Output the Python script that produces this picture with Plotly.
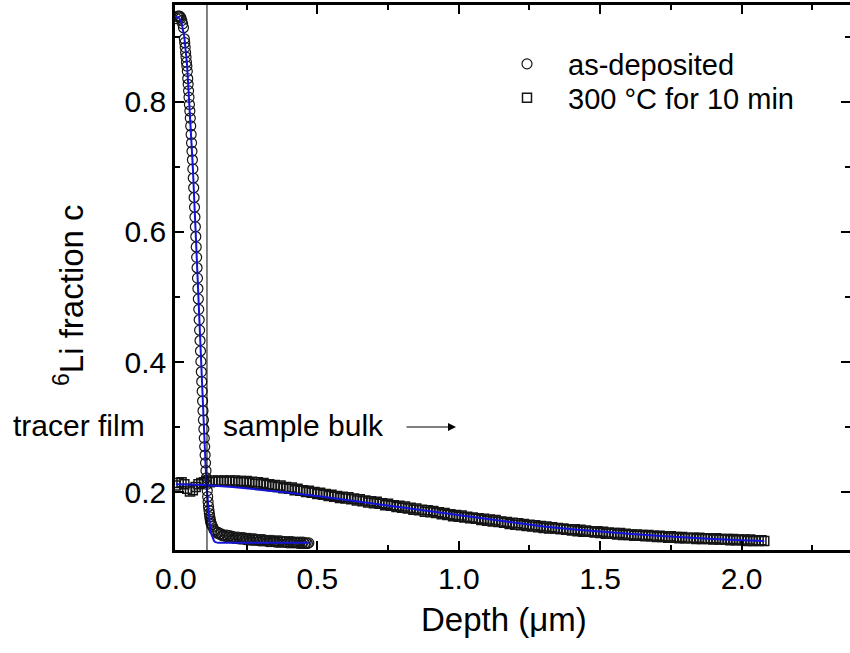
import plotly.graph_objects as go

# ---------------- data ----------------
asdep_depth = [0.003, 0.006, 0.009, 0.012, 0.015, 0.018, 0.021, 0.024, 0.027,
               0.0300, 0.0315, 0.0330, 0.0345, 0.0360, 0.0375, 0.0390, 0.0405, 0.0420, 0.0435,
               0.0450, 0.0465, 0.0480, 0.0495, 0.0510, 0.0525, 0.0540, 0.0555, 0.0570, 0.0585,
               0.0600, 0.0615, 0.0630, 0.0645, 0.0660, 0.0675, 0.0690, 0.0705, 0.0720, 0.0735,
               0.0750, 0.0765, 0.0780, 0.0795, 0.0810, 0.0825, 0.0840, 0.0855, 0.0870, 0.0885,
               0.0900, 0.0915, 0.0930, 0.0945, 0.0960, 0.0975, 0.0990, 0.1005, 0.1020, 0.1035,
               0.1050, 0.1065, 0.1080, 0.1095, 0.1110, 0.1125, 0.1140, 0.1155, 0.1170, 0.1185,
               0.1200, 0.1215, 0.1230, 0.1245, 0.1260,
               0.130, 0.135, 0.140, 0.145, 0.150, 0.155, 0.160, 0.165, 0.170, 0.175,
               0.180, 0.185, 0.190, 0.195, 0.200, 0.205, 0.210, 0.215, 0.220, 0.225,
               0.230, 0.235, 0.240, 0.245, 0.250, 0.255, 0.260, 0.265, 0.270, 0.275,
               0.280, 0.285, 0.290, 0.295, 0.300, 0.305, 0.310, 0.315, 0.320, 0.325,
               0.330, 0.335, 0.340, 0.345, 0.350, 0.355, 0.360, 0.365, 0.370, 0.375,
               0.380, 0.385, 0.390, 0.395, 0.400, 0.405, 0.410, 0.415, 0.420, 0.425,
               0.430, 0.435, 0.440, 0.445, 0.450, 0.455, 0.460, 0.465, 0.470]
asdep_c = [0.928, 0.931, 0.932, 0.932, 0.931, 0.929, 0.925, 0.920, 0.914,
           0.897, 0.891, 0.884, 0.876, 0.869, 0.861, 0.855, 0.847, 0.836, 0.827,
           0.817, 0.807, 0.796, 0.786, 0.775, 0.763, 0.750, 0.737, 0.724, 0.711,
           0.697, 0.683, 0.668, 0.653, 0.638, 0.623, 0.608, 0.593, 0.577, 0.561,
           0.545, 0.529, 0.513, 0.497, 0.481, 0.465, 0.449, 0.433, 0.417, 0.401,
           0.385, 0.370, 0.355, 0.340, 0.325, 0.311, 0.297, 0.283, 0.270, 0.257,
           0.245, 0.233, 0.222, 0.212, 0.202, 0.193, 0.185, 0.178, 0.172, 0.167,
           0.162, 0.158, 0.155, 0.152, 0.150,
           0.147, 0.142, 0.140, 0.137, 0.138, 0.135, 0.136, 0.133, 0.134, 0.132,
           0.134, 0.131, 0.133, 0.130, 0.132, 0.129, 0.131, 0.129, 0.131, 0.128,
           0.130, 0.128, 0.130, 0.127, 0.129, 0.127, 0.129, 0.126, 0.128, 0.126,
           0.128, 0.126, 0.127, 0.125, 0.127, 0.125, 0.127, 0.125, 0.126, 0.124,
           0.126, 0.124, 0.126, 0.124, 0.125, 0.123, 0.125, 0.123, 0.125, 0.123,
           0.124, 0.123, 0.124, 0.122, 0.124, 0.122, 0.124, 0.122, 0.123, 0.122,
           0.123, 0.121, 0.123, 0.121, 0.123, 0.121, 0.122, 0.121, 0.122]

asdep_fit_depth = [0.000, 0.010, 0.020, 0.030, 0.040, 0.050, 0.060, 0.070, 0.080, 0.090,
                   0.100, 0.105, 0.110, 0.115, 0.120, 0.125, 0.130, 0.135, 0.140, 0.150,
                   0.170, 0.250, 0.350, 0.470]
asdep_fit_c = [0.930, 0.930, 0.922, 0.900, 0.855, 0.785, 0.700, 0.600, 0.493, 0.385,
               0.285, 0.242, 0.203, 0.172, 0.150, 0.136, 0.129, 0.125, 0.123, 0.122,
               0.122, 0.122, 0.122, 0.122]

ann_depth = [
    0.00, 0.01, 0.02, 0.03, 0.04, 0.05, 0.06, 0.07, 0.08, 0.09,
    0.10, 0.11, 0.12, 0.13, 0.14, 0.15, 0.16, 0.17, 0.18, 0.19,
    0.20, 0.21, 0.22, 0.23, 0.24, 0.25, 0.26, 0.27, 0.28, 0.29,
    0.30, 0.31, 0.32, 0.33, 0.34, 0.35, 0.36, 0.37, 0.38, 0.39,
    0.40, 0.41, 0.42, 0.43, 0.44, 0.45, 0.46, 0.47, 0.48, 0.49,
    0.50, 0.51, 0.52, 0.53, 0.54, 0.55, 0.56, 0.57, 0.58, 0.59,
    0.60, 0.61, 0.62, 0.63, 0.64, 0.65, 0.66, 0.67, 0.68, 0.69,
    0.70, 0.71, 0.72, 0.73, 0.74, 0.75, 0.76, 0.77, 0.78, 0.79,
    0.80, 0.81, 0.82, 0.83, 0.84, 0.85, 0.86, 0.87, 0.88, 0.89,
    0.90, 0.91, 0.92, 0.93, 0.94, 0.95, 0.96, 0.97, 0.98, 0.99,
    1.00, 1.01, 1.02, 1.03, 1.04, 1.05, 1.06, 1.07, 1.08, 1.09,
    1.10, 1.11, 1.12, 1.13, 1.14, 1.15, 1.16, 1.17, 1.18, 1.19,
    1.20, 1.21, 1.22, 1.23, 1.24, 1.25, 1.26, 1.27, 1.28, 1.29,
    1.30, 1.31, 1.32, 1.33, 1.34, 1.35, 1.36, 1.37, 1.38, 1.39,
    1.40, 1.41, 1.42, 1.43, 1.44, 1.45, 1.46, 1.47, 1.48, 1.49,
    1.50, 1.51, 1.52, 1.53, 1.54, 1.55, 1.56, 1.57, 1.58, 1.59,
    1.60, 1.61, 1.62, 1.63, 1.64, 1.65, 1.66, 1.67, 1.68, 1.69,
    1.70, 1.71, 1.72, 1.73, 1.74, 1.75, 1.76, 1.77, 1.78, 1.79,
    1.80, 1.81, 1.82, 1.83, 1.84, 1.85, 1.86, 1.87, 1.88, 1.89,
    1.90, 1.91, 1.92, 1.93, 1.94, 1.95, 1.96, 1.97, 1.98, 1.99,
    2.00, 2.01, 2.02, 2.03, 2.04, 2.05, 2.06, 2.07, 2.08]
ann_c = [
    0.210, 0.214, 0.215, 0.212, 0.205, 0.201, 0.203, 0.208, 0.212, 0.214,
    0.215, 0.217, 0.215, 0.218, 0.216, 0.218, 0.216, 0.218, 0.216, 0.218,
    0.216, 0.218, 0.215, 0.217, 0.215, 0.217, 0.214, 0.216, 0.213, 0.215,
    0.212, 0.214, 0.211, 0.212, 0.209, 0.211, 0.208, 0.210, 0.206, 0.208,
    0.205, 0.207, 0.203, 0.205, 0.202, 0.203, 0.200, 0.202, 0.199, 0.200,
    0.197, 0.199, 0.196, 0.197, 0.194, 0.196, 0.193, 0.194, 0.191, 0.193,
    0.190, 0.192, 0.189, 0.190, 0.187, 0.189, 0.186, 0.187, 0.184, 0.186,
    0.183, 0.185, 0.182, 0.183, 0.180, 0.182, 0.179, 0.180, 0.177, 0.179,
    0.176, 0.178, 0.175, 0.176, 0.173, 0.175, 0.172, 0.173, 0.170, 0.172,
    0.169, 0.171, 0.168, 0.169, 0.166, 0.168, 0.165, 0.166, 0.163, 0.165,
    0.162, 0.164, 0.161, 0.162, 0.160, 0.161, 0.159, 0.160, 0.157, 0.159,
    0.156, 0.158, 0.155, 0.157, 0.154, 0.155, 0.153, 0.154, 0.151, 0.153,
    0.150, 0.152, 0.149, 0.151, 0.148, 0.150, 0.147, 0.149, 0.146, 0.148,
    0.145, 0.147, 0.144, 0.146, 0.144, 0.145, 0.143, 0.144, 0.142, 0.143,
    0.141, 0.143, 0.140, 0.142, 0.139, 0.141, 0.139, 0.140, 0.138, 0.140,
    0.137, 0.139, 0.136, 0.138, 0.136, 0.137, 0.135, 0.137, 0.134, 0.136,
    0.134, 0.135, 0.133, 0.135, 0.133, 0.134, 0.132, 0.134, 0.132, 0.133,
    0.131, 0.133, 0.131, 0.132, 0.130, 0.132, 0.130, 0.131, 0.129, 0.131,
    0.129, 0.130, 0.129, 0.130, 0.128, 0.130, 0.128, 0.129, 0.128, 0.129,
    0.127, 0.129, 0.127, 0.128, 0.127, 0.128, 0.126, 0.128, 0.126, 0.127,
    0.126, 0.127, 0.125, 0.127, 0.125, 0.126, 0.125, 0.126, 0.125]

ann_fit_depth = [0.00, 0.10, 0.20, 0.30, 0.40, 0.50, 0.60, 0.70, 0.80, 0.90, 1.00,
                 1.10, 1.20, 1.30, 1.40, 1.50, 1.60, 1.70, 1.80, 1.90, 2.00, 2.08]
ann_fit_c = [0.212, 0.211, 0.208, 0.204, 0.199, 0.194, 0.188, 0.182, 0.176, 0.170, 0.164,
             0.158, 0.152, 0.147, 0.143, 0.139, 0.136, 0.133, 0.130, 0.128, 0.126, 0.125]

interface_depth = [0.11]

series_names = ["as-deposited", "300 °C for 10 min"]
x_tick_vals = [0.0, 0.5, 1.0, 1.5, 2.0]
x_tick_text = ["0.0", "0.5", "1.0", "1.5", "2.0"]
x_minor_vals = [0.25, 0.75, 1.25, 1.75, 2.25]
y_tick_vals = [0.2, 0.4, 0.6, 0.8]
y_tick_text = ["0.2", "0.4", "0.6", "0.8"]
y_minor_vals = [0.3, 0.5, 0.7, 0.9]

# ---------------- figure ----------------
FONT = "Liberation Sans, Arial, sans-serif"
BLUE = "#1414d8"
INK = "#151515"
W, H = 850, 653
ML, MR, MT, MB = 175, 0, 5, 103
PW, PH = W - ML - MR, H - MT - MB


def px_x(p):
    return (p - ML) / PW


def px_y(p):
    return (H - MB - p) / PH


fig = go.Figure()
fig.add_trace(go.Scatter(
    x=asdep_depth, y=asdep_c, mode="markers", name=series_names[0], legend="legend",
    marker=dict(symbol="circle-open", size=10, color=INK, line=dict(width=1.2, color=INK)),
))
fig.add_trace(go.Scatter(
    x=ann_depth, y=ann_c, mode="markers", name=series_names[1], legend="legend2",
    marker=dict(symbol="square-open", size=9, color=INK, line=dict(width=1.5, color=INK)),
))
fig.add_trace(go.Scatter(
    x=asdep_fit_depth, y=asdep_fit_c, mode="lines", showlegend=False,
    line=dict(color=BLUE, width=2),
))
fig.add_trace(go.Scatter(
    x=ann_fit_depth, y=ann_fit_c, mode="lines", showlegend=False,
    line=dict(color=BLUE, width=2),
))
# invisible trace to enable the right-side tick axis
fig.add_trace(go.Scatter(x=[None], y=[None], yaxis="y2", showlegend=False, hoverinfo="skip"))

for d in interface_depth:
    fig.add_shape(type="line", xref="x", yref="paper", x0=d, x1=d, y0=0, y1=1,
                  line=dict(color="black", width=1))

axis_common = dict(
    showgrid=False, zeroline=False, ticks="inside", tickwidth=2, ticklen=9,
    tickcolor="black", tickfont=dict(family=FONT, size=30, color="black"),
)
minor_x = dict(tickvals=x_minor_vals, ticks="inside", ticklen=5, tickwidth=2, tickcolor="black")
minor_y = dict(tickvals=y_minor_vals, ticks="inside", ticklen=5, tickwidth=2, tickcolor="black")
legend_common = dict(
    xanchor="left", yanchor="middle", font=dict(family=FONT, size=29, color="black"),
    bgcolor="rgba(0,0,0,0)", itemwidth=72, borderwidth=0,
)

fig.update_layout(
    width=W, height=H,
    margin=dict(l=ML, r=MR, t=MT, b=MB),
    paper_bgcolor="white", plot_bgcolor="white",
    font=dict(family=FONT, color="black"),
    xaxis=dict(
        range=[-0.003, 2.383], tickvals=x_tick_vals, ticktext=x_tick_text,
        showline=True, linewidth=2.5, linecolor="black", mirror="ticks",
        minor=minor_x, **axis_common,
    ),
    yaxis=dict(
        range=[0.111, 0.949], tickvals=y_tick_vals, ticktext=y_tick_text,
        showline=True, linewidth=2.5, linecolor="black", mirror=False,
        minor=minor_y, **axis_common,
    ),
    yaxis2=dict(
        overlaying="y", side="right", matches="y", showline=False, showticklabels=False,
        tickvals=y_tick_vals, minor=minor_y,
        showgrid=False, zeroline=False, ticks="inside", tickwidth=2, ticklen=9, tickcolor="black",
    ),
    legend=dict(x=px_x(486), y=px_y(64), **legend_common),
    legend2=dict(x=px_x(486), y=px_y(98), **legend_common),
    showlegend=True,
)

fig.add_annotation(text="Depth (μm)", xref="paper", yref="paper", x=px_x(504), y=px_y(619),
                   showarrow=False, xanchor="center", yanchor="middle",
                   font=dict(family=FONT, size=33, color="black"))
fig.add_annotation(text="<sup>6</sup>Li fraction c", xref="paper", yref="paper",
                   x=px_x(69), y=px_y(295), textangle=-90, showarrow=False,
                   xanchor="center", yanchor="middle",
                   font=dict(family=FONT, size=33, color="black"))
fig.add_annotation(text="tracer film", xref="paper", yref="paper", x=px_x(11), y=px_y(425),
                   showarrow=False, xanchor="left", yanchor="middle",
                   font=dict(family=FONT, size=30, color="black"))
fig.add_annotation(text="sample bulk", xref="paper", yref="paper", x=px_x(221), y=px_y(425),
                   showarrow=False, xanchor="left", yanchor="middle",
                   font=dict(family=FONT, size=30, color="black"))
fig.add_annotation(text="", xref="paper", yref="paper", x=px_x(456), y=px_y(427),
                   ax=-51, ay=0, showarrow=True, arrowhead=2, arrowsize=1.6, arrowwidth=1,
                   arrowcolor="black")

fig.write_html("out.html", config={"displayModeBar": False},
               post_script="document.body.style.margin='0px';")
